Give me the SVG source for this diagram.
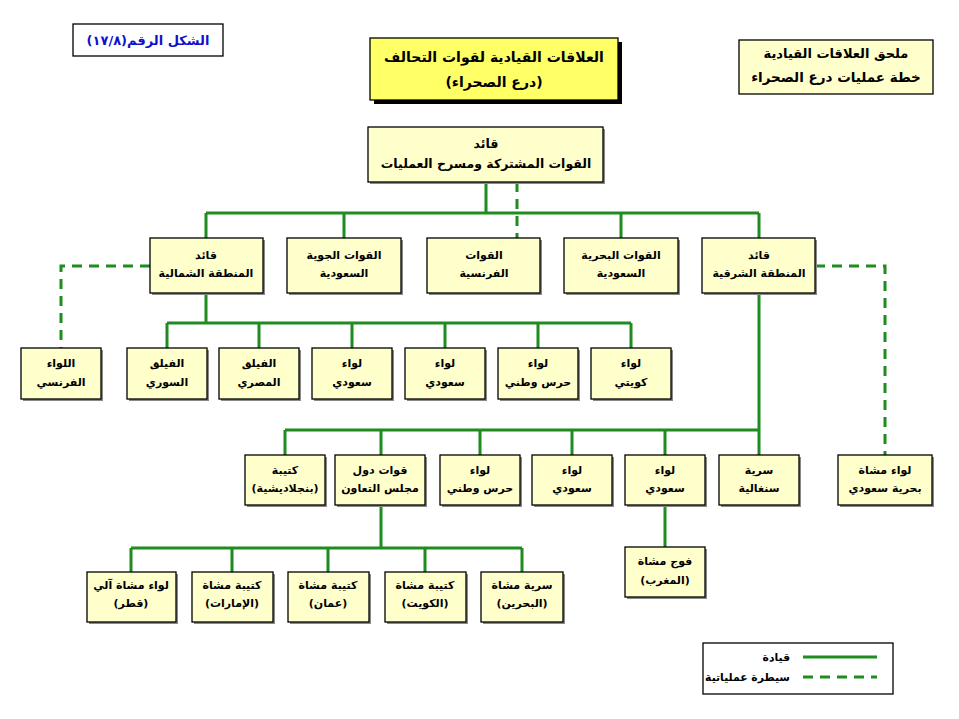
<svg xmlns="http://www.w3.org/2000/svg" width="959" height="719" viewBox="0 0 959 719">
<style>
text{font-family:"DejaVu Sans",sans-serif;font-weight:bold;direction:rtl;text-anchor:middle;fill:#000}
.n rect.b{fill:#FFFFCC;stroke:#000;stroke-width:1.3}
.n rect.s{fill:#8a8a8a}
.n text{font-size:11px}
.c{fill:none;stroke:#1E8C1E;stroke-width:3}
.d{stroke-dasharray:10 7}
</style>
<rect width="959" height="719" fill="#fff"/>
<g id="figure-label">
<rect x="73" y="24" width="150" height="32" fill="#fff" stroke="#000" stroke-width="1.3"/>
<text x="148" y="45" style="font-size:13px;fill:#1010CC">الشكل الرقم(١٧/٨)</text>
</g>
<g id="title">
<rect x="374" y="42" width="248" height="62" fill="#000"/>
<rect x="370" y="38" width="248" height="62" fill="#FFFF66" stroke="#000" stroke-width="1.3"/>
<text x="494" y="62" style="font-size:14px">العلاقات القيادية لقوات التحالف</text>
<text x="494" y="87" style="font-size:14px">(درع الصحراء)</text>
</g>
<g id="annex">
<rect x="739" y="40" width="194" height="54" fill="#FFFFCC" stroke="#000" stroke-width="1.3"/>
<text x="836" y="58" style="font-size:13px">ملحق العلاقات القيادية</text>
<text x="836" y="82" style="font-size:13.5px">خطة عمليات درع الصحراء</text>
</g>
<g id="connectors">
<path class="c" d="M486 182V213M206 213H759M206 213V238M344 213V238M621 213V238M759 213V455"/>
<path class="c d" d="M517 182V238"/>
<path class="c" d="M206 293V323M167 323H631M167 323V348M259 323V348M352 323V348M445 323V348M538 323V348M631 323V348"/>
<path class="c d" d="M150 266H61V348M815 266H885V455"/>
<path class="c" d="M285 430H759M285 430V455M381 430V455M480 430V455M572 430V455M665 430V455"/>
<path class="c" d="M665 505V547M381 505V548M131 548H522M131 548V572M232 548V572M328 548V572M425 548V572M522 548V572"/>
</g>
<g id="commander" class="n">
<rect class="s" x="370" y="129" width="235" height="55"/>
<rect class="b" x="368" y="127" width="235" height="55"/>
<text x="486" y="148" style="font-size:12.5px">قائد</text>
<text x="486" y="168" style="font-size:12.5px">القوات المشتركة ومسرح العمليات</text>
</g>
<g id="north" class="n">
<rect class="s" x="152" y="240" width="113" height="55"/>
<rect class="b" x="150" y="238" width="113" height="55"/>
<text x="206" y="259">قائد</text><text x="206" y="277">المنطقة الشمالية</text>
</g>
<g id="saudi-air" class="n">
<rect class="s" x="289" y="240" width="114" height="55"/>
<rect class="b" x="287" y="238" width="114" height="55"/>
<text x="344" y="259">القوات الجوية</text><text x="344" y="277">السعودية</text>
</g>
<g id="french-forces" class="n">
<rect class="s" x="429" y="240" width="113" height="55"/>
<rect class="b" x="427" y="238" width="113" height="55"/>
<text x="484" y="259">القوات</text><text x="484" y="277">الفرنسية</text>
</g>
<g id="saudi-navy" class="n">
<rect class="s" x="566" y="240" width="114" height="55"/>
<rect class="b" x="564" y="238" width="114" height="55"/>
<text x="621" y="259">القوات البحرية</text><text x="621" y="277">السعودية</text>
</g>
<g id="east" class="n">
<rect class="s" x="704" y="240" width="113" height="55"/>
<rect class="b" x="702" y="238" width="113" height="55"/>
<text x="759" y="259">قائد</text><text x="759" y="277">المنطقة الشرقية</text>
</g>
<g id="french-brigade" class="n">
<rect class="s" x="23" y="350" width="80" height="51"/>
<rect class="b" x="21" y="348" width="80" height="51"/>
<text x="61" y="367">اللواء</text><text x="61" y="386">الفرنسي</text>
</g>
<g id="syrian-corps" class="n">
<rect class="s" x="129" y="350" width="80" height="51"/>
<rect class="b" x="127" y="348" width="80" height="51"/>
<text x="167" y="367">الفيلق</text><text x="167" y="386">السوري</text>
</g>
<g id="egyptian-corps" class="n">
<rect class="s" x="221" y="350" width="80" height="51"/>
<rect class="b" x="219" y="348" width="80" height="51"/>
<text x="259" y="367">الفيلق</text><text x="259" y="386">المصري</text>
</g>
<g id="saudi-brigade-1" class="n">
<rect class="s" x="314" y="350" width="80" height="51"/>
<rect class="b" x="312" y="348" width="80" height="51"/>
<text x="352" y="367">لواء</text><text x="352" y="386">سعودي</text>
</g>
<g id="saudi-brigade-2" class="n">
<rect class="s" x="407" y="350" width="80" height="51"/>
<rect class="b" x="405" y="348" width="80" height="51"/>
<text x="445" y="367">لواء</text><text x="445" y="386">سعودي</text>
</g>
<g id="guard-brigade-1" class="n">
<rect class="s" x="500" y="350" width="80" height="51"/>
<rect class="b" x="498" y="348" width="80" height="51"/>
<text x="538" y="367">لواء</text><text x="538" y="386">حرس وطني</text>
</g>
<g id="kuwaiti-brigade" class="n">
<rect class="s" x="593" y="350" width="80" height="51"/>
<rect class="b" x="591" y="348" width="80" height="51"/>
<text x="631" y="367">لواء</text><text x="631" y="386">كويتي</text>
</g>
<g id="bangladeshi-battalion" class="n">
<rect class="s" x="247" y="457" width="80" height="50"/>
<rect class="b" x="245" y="455" width="80" height="50"/>
<text x="285" y="474">كتيبة</text><text x="285" y="492">(بنجلاديشية)</text>
</g>
<g id="gcc-forces" class="n">
<rect class="s" x="337" y="457" width="90" height="50"/>
<rect class="b" x="335" y="455" width="90" height="50"/>
<text x="380" y="474">قوات دول</text><text x="380" y="492">مجلس التعاون</text>
</g>
<g id="guard-brigade-2" class="n">
<rect class="s" x="442" y="457" width="80" height="50"/>
<rect class="b" x="440" y="455" width="80" height="50"/>
<text x="480" y="474">لواء</text><text x="480" y="492">حرس وطني</text>
</g>
<g id="saudi-brigade-3" class="n">
<rect class="s" x="534" y="457" width="80" height="50"/>
<rect class="b" x="532" y="455" width="80" height="50"/>
<text x="572" y="474">لواء</text><text x="572" y="492">سعودي</text>
</g>
<g id="saudi-brigade-4" class="n">
<rect class="s" x="627" y="457" width="80" height="50"/>
<rect class="b" x="625" y="455" width="80" height="50"/>
<text x="665" y="474">لواء</text><text x="665" y="492">سعودي</text>
</g>
<g id="senegalese-company" class="n">
<rect class="s" x="721" y="457" width="80" height="50"/>
<rect class="b" x="719" y="455" width="80" height="50"/>
<text x="759" y="474">سرية</text><text x="759" y="492">سنغالية</text>
</g>
<g id="saudi-marine-brigade" class="n">
<rect class="s" x="840" y="457" width="94" height="50"/>
<rect class="b" x="838" y="455" width="94" height="50"/>
<text x="885" y="474">لواء مشاة</text><text x="885" y="492">بحرية سعودي</text>
</g>
<g id="moroccan-regiment" class="n">
<rect class="s" x="627" y="549" width="80" height="50"/>
<rect class="b" x="625" y="547" width="80" height="50"/>
<text x="665" y="565">فوج مشاة</text><text x="665" y="584">(المغرب)</text>
</g>
<g id="qatar-brigade" class="n">
<rect class="s" x="89" y="574" width="89" height="50"/>
<rect class="b" x="87" y="572" width="89" height="50"/>
<text x="131" y="589">لواء مشاة آلي</text><text x="131" y="607">(قطر)</text>
</g>
<g id="uae-battalion" class="n">
<rect class="s" x="194" y="574" width="81" height="50"/>
<rect class="b" x="192" y="572" width="81" height="50"/>
<text x="232" y="589">كتيبة مشاة</text><text x="232" y="607">(الإمارات)</text>
</g>
<g id="oman-battalion" class="n">
<rect class="s" x="290" y="574" width="81" height="50"/>
<rect class="b" x="288" y="572" width="81" height="50"/>
<text x="328" y="589">كتيبة مشاة</text><text x="328" y="607">(عمان)</text>
</g>
<g id="kuwait-battalion" class="n">
<rect class="s" x="387" y="574" width="81" height="50"/>
<rect class="b" x="385" y="572" width="81" height="50"/>
<text x="425" y="589">كتيبة مشاة</text><text x="425" y="607">(الكويت)</text>
</g>
<g id="bahrain-company" class="n">
<rect class="s" x="483" y="574" width="82" height="50"/>
<rect class="b" x="481" y="572" width="82" height="50"/>
<text x="522" y="589">سرية مشاة</text><text x="522" y="607">(البحرين)</text>
</g>
<g id="legend">
<rect x="703" y="643" width="190" height="51" fill="#fff" stroke="#000" stroke-width="1.3"/>
<path class="c" d="M803 657H877"/>
<path class="c d" d="M803 677H877"/>
<text x="790" y="661" style="font-size:10.8px;text-anchor:start">قيادة</text>
<text x="790" y="681" style="font-size:10.8px;text-anchor:start">سيطرة عملياتية</text>
</g>
</svg>
